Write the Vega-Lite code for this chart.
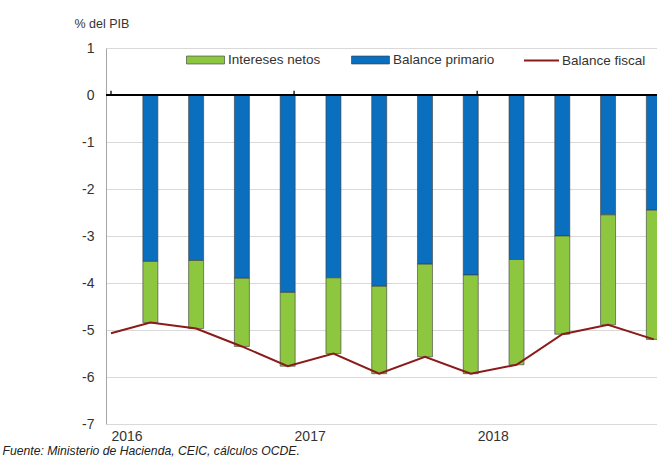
{
  "$schema": "https://vega.github.io/schema/vega-lite/v6.json",
  "width": 551,
  "height": 376,
  "autosize": {"type": "none"},
  "padding": {"left": 106, "top": 48, "right": 0, "bottom": 37},
  "background": "white",
  "config": {"view": {"stroke": null}, "font": "Liberation Sans"},
  "resolve": {"legend": {"fill": "independent", "stroke": "independent"}},
  "datasets": {
    "series": [
      {"q": 0, "prim": null, "fisc": -5.07},
      {"q": 0.86, "prim": -3.54, "fisc": -4.84},
      {"q": 1.86, "prim": -3.52, "fisc": -4.97},
      {"q": 2.86, "prim": -3.90, "fisc": -5.35},
      {"q": 3.86, "prim": -4.20, "fisc": -5.77},
      {"q": 4.86, "prim": -3.89, "fisc": -5.50},
      {"q": 5.86, "prim": -4.07, "fisc": -5.93},
      {"q": 6.86, "prim": -3.60, "fisc": -5.57},
      {"q": 7.86, "prim": -3.83, "fisc": -5.93},
      {"q": 8.86, "prim": -3.50, "fisc": -5.74},
      {"q": 9.86, "prim": -3.00, "fisc": -5.09},
      {"q": 10.86, "prim": -2.55, "fisc": -4.89},
      {"q": 11.86, "prim": -2.45, "fisc": -5.20}
    ],
    "years": [{"q": 0}, {"q": 4}, {"q": 8}]
  },
  "layer": [
    {
      "data": {"name": "series"},
      "transform": [{"filter": "datum.prim != null"}],
      "mark": {"type": "bar", "size": 15, "clip": true, "stroke": "#3a3a3a", "strokeWidth": 0.6},
      "encoding": {
        "x": {
          "field": "q", "type": "quantitative",
          "scale": {"domain": [0, 11.82], "nice": false, "zero": false},
          "axis": {
            "values": [0, 4, 8],
            "labelExpr": "datum.value === 0 ? '2016' : datum.value === 4 ? '2017' : '2018'",
            "labelAlign": "left",
            "labelFlush": false,
            "domain": false,
            "ticks": false,
            "grid": false,
            "labelPadding": 5,
            "labelFontSize": 14,
            "labelColor": "#333333",
            "title": "Fuente: Ministerio de Hacienda, CEIC, cálculos OCDE.",
            "titleFontStyle": "italic",
            "titleFontWeight": "normal",
            "titleFontSize": 12.2,
            "titleColor": "#222222",
            "titleAlign": "left",
            "titleAnchor": "start",
            "titleBaseline": "alphabetic",
            "titleX": -104,
            "titleY": 30
          }
        },
        "y": {
          "field": "prim", "type": "quantitative",
          "scale": {"domain": [-7, 1], "nice": false, "zero": false},
          "axis": {
            "values": [-7, -6, -5, -4, -3, -2, -1, 0, 1],
            "labelExpr": "'' + datum.value",
            "grid": true,
            "gridColor": "#d9d9d9",
            "domain": true,
            "domainColor": "#a6a6a6",
            "ticks": false,
            "labelPadding": 12,
            "labelFontSize": 14,
            "labelColor": "#333333",
            "title": "% del PIB",
            "titleAngle": 0,
            "titleAlign": "left",
            "titleBaseline": "alphabetic",
            "titleX": -32,
            "titleY": -21,
            "titleFontSize": 12.5,
            "titleFontWeight": "normal",
            "titleColor": "#333333"
          }
        },
        "y2": {"datum": 0},
        "fill": {
          "datum": "Balance primario",
          "scale": {
            "domain": ["Intereses netos", "Balance primario"],
            "range": ["#8DC63F", "#0B6FBF"]
          },
          "legend": {
            "orient": "none",
            "legendX": 80,
            "legendY": 1.5,
            "direction": "horizontal",
            "title": null,
            "labelFontSize": 13.5,
            "labelColor": "#333333",
            "symbolType": "M-1,-0.4H2.8V0.4H-1Z",
            "symbolSize": 400,
            "symbolStrokeColor": "#3a3a3a",
            "symbolStrokeWidth": 0.6,
            "symbolOpacity": 1,
            "labelOffset": 21,
            "columnPadding": 29
          }
        }
      }
    },
    {
      "data": {"name": "series"},
      "transform": [{"filter": "datum.prim != null"}],
      "mark": {"type": "bar", "size": 15, "clip": true, "stroke": "#3a3a3a", "strokeWidth": 0.6},
      "encoding": {
        "x": {"field": "q", "type": "quantitative"},
        "y": {"field": "prim", "type": "quantitative"},
        "y2": {"field": "fisc"},
        "fill": {"datum": "Intereses netos"}
      }
    },
    {
      "data": {"name": "series"},
      "mark": {"type": "rule", "color": "#000000", "strokeWidth": 1.3},
      "encoding": {"y": {"datum": 0}}
    },
    {
      "data": {"name": "years"},
      "mark": {"type": "rule", "color": "#000000", "strokeWidth": 1.3},
      "encoding": {
        "x": {"field": "q", "type": "quantitative"},
        "y": {"datum": 0},
        "y2": {"datum": 0.09}
      }
    },
    {
      "data": {"name": "series"},
      "mark": {"type": "line", "strokeWidth": 2, "clip": true},
      "encoding": {
        "x": {"field": "q", "type": "quantitative"},
        "y": {"field": "fisc", "type": "quantitative"},
        "stroke": {
          "datum": "Balance fiscal",
          "scale": {"domain": ["Balance fiscal"], "range": ["#8B1A1A"]},
          "legend": {
            "orient": "none",
            "legendX": 417,
            "legendY": -6,
            "title": null,
            "labelFontSize": 13.5,
            "labelColor": "#333333",
            "symbolType": "stroke",
            "symbolSize": 1225,
            "symbolStrokeWidth": 2,
            "labelOffset": 2
          }
        }
      }
    }
  ]
}
